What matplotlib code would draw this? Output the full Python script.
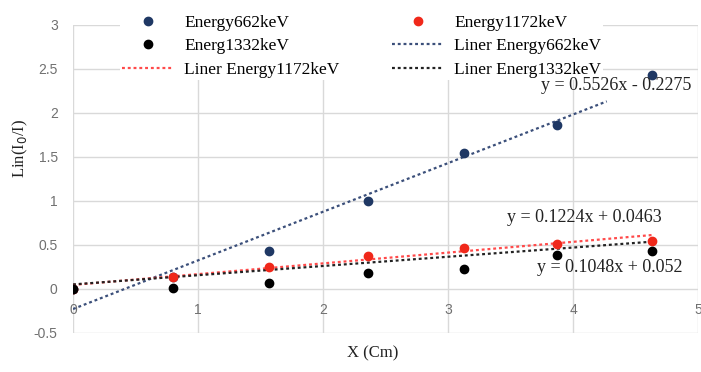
import matplotlib
matplotlib.use("Agg")
import matplotlib.pyplot as plt
from matplotlib.lines import Line2D
import numpy as np

# absorber thickness (cm) and ln(I0/I) for each gamma energy
thickness = [0, 0.8, 1.57, 2.36, 3.13, 3.87, 4.63]
ln662 = [0, 0.14, 0.43, 1.0, 1.55, 1.86, 2.43]
ln1172 = [0, 0.14, 0.25, 0.375, 0.47, 0.51, 0.55]
ln1332 = [0, 0.01, 0.07, 0.18, 0.23, 0.39, 0.43]

# linear trend lines: slope, intercept, x-range
fit662 = (0.5526, -0.2275, 0, 4.27)
fit1172 = (0.1224, 0.0463, 0, 4.63)
fit1332 = (0.1048, 0.052, 0, 4.63)

eq662 = "y = 0.5526x - 0.2275"
eq1172 = "y = 0.1224x + 0.0463"
eq1332 = "y = 0.1048x + 0.052"

xticks = [0, 1, 2, 3, 4, 5]
yticks = [-0.5, 0, 0.5, 1, 1.5, 2, 2.5, 3]

navy = "#1f3864"
navy_line = "#3b4f7a"
red = "#f0281a"
red_line = "#ff4a4a"
serif = "Liberation Serif"

fig = plt.figure(figsize=(7.01, 3.72), dpi=100)
ax = fig.add_axes([73 / 701, 1 - 333 / 372, 625 / 701, 308 / 372])

dot = (0, (1.3, 1.3))


def trend(fit, color):
    k, b, x0, x1 = fit
    xs = np.array([x0, x1])
    ax.plot(xs, k * xs + b, color=color, lw=1.6, linestyle=dot, zorder=2)


trend(fit662, navy_line)
trend(fit1172, red_line)
trend(fit1332, "#222222")

ax.scatter(thickness, ln662, s=36, color=navy, zorder=3)
ax.scatter(thickness, ln1172, s=36, color=red, zorder=4)
ax.scatter(thickness, ln1332, s=36, color="black", zorder=5)

# equation labels sit above the legend box
for x, y, s in [(3.744, 2.318, eq662), (3.472, 0.818, eq1172), (3.712, 0.239, eq1332)]:
    ax.text(x, y, s, family=serif, fontsize=13, ha="left", va="center",
            color="#222222", zorder=8)

ax.set_xlim(0, 5)
ax.set_ylim(-0.5, 3)
ax.set_xticks(xticks)
ax.set_yticks(yticks)
ax.set_xticklabels([str(t) for t in xticks])
ax.set_yticklabels([("%g" % t) for t in yticks])
ax.grid(True, color="#d9d9d9", lw=1)
ax.set_axisbelow(True)
for s in ax.spines.values():
    s.set_visible(False)
ax.spines["bottom"].set_position(("data", 0))
ax.tick_params(axis="both", length=0, labelcolor="#707070", labelsize=10)
ax.tick_params(axis="x", pad=10)
ax.tick_params(axis="y", pad=11)
for lab in ax.get_xticklabels() + ax.get_yticklabels():
    lab.set_family("Liberation Sans")

fig.text(20 / 701, 1 - 148 / 372, "Lin(I$_0$/I)", rotation=90, family=serif,
         fontsize=12, ha="center", va="center", color="#222222")
fig.text(373 / 701, 1 - 353 / 372, "X (Cm)", family=serif, fontsize=12,
         ha="center", va="center", color="#222222")

h662 = Line2D([], [], marker="o", ls="none", color=navy, markersize=6)
h1172 = Line2D([], [], marker="o", ls="none", color=red, markersize=6)
h1332 = Line2D([], [], marker="o", ls="none", color="black", markersize=6)
l662 = Line2D([], [], color=navy_line, lw=1.6, ls=dot)
l1172 = Line2D([], [], color=red_line, lw=1.6, ls=dot)
l1332 = Line2D([], [], color="#222222", lw=1.6, ls=dot)

handles = [h662, h1332, l1172, h1172, l662, l1332]
labels = ["Energy662keV", "Energ1332keV", "Liner Energy1172keV",
          "Energy1172keV", "Liner Energy662keV", "Liner Energ1332keV"]
leg = ax.legend(handles, labels, ncol=2, loc="upper left",
                bbox_to_anchor=(120 / 701, 1 - 13 / 372),
                bbox_transform=fig.transFigure,
                prop={"family": serif, "size": 12.5}, frameon=True,
                borderpad=0.1, borderaxespad=0, handlelength=3,
                handletextpad=0.6, columnspacing=3.0, labelspacing=0.42)
leg.set_zorder(6)
leg.get_frame().set_facecolor("white")
leg.get_frame().set_edgecolor("none")
leg.get_frame().set_alpha(1)

fig.savefig("out.png", dpi=100)
